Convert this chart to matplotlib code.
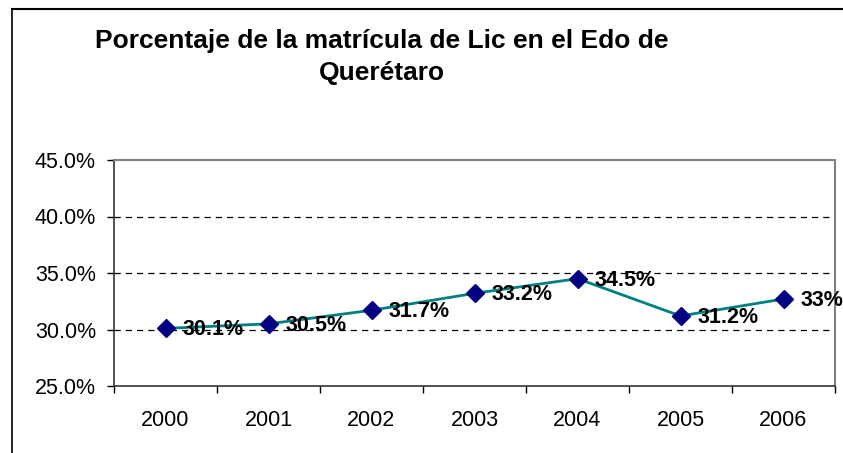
import numpy as np
import matplotlib
matplotlib.use("Agg")
import matplotlib.pyplot as plt
from matplotlib.lines import Line2D

# ---------------------------------------------------------------------------
# Datos
# ---------------------------------------------------------------------------
years = ["2000", "2001", "2002", "2003", "2004", "2005", "2006"]
pct = [30.1, 30.5, 31.7, 33.2, 34.5, 31.2, 32.7]
pct_labels = ["30.1%", "30.5%", "31.7%", "33.2%", "34.5%", "31.2%", "33%"]
y_ticks = [25.0, 30.0, 35.0, 40.0, 45.0]

TITLE = "Porcentaje de la matrícula de Lic en el Edo de\nQuerétaro"

plt.rcParams.update({
    "font.family": ["Liberation Sans", "DejaVu Sans"],
})

W, H = 843, 453
fig = plt.figure(figsize=(W / 100, H / 100), dpi=100)
fig.patch.set_facecolor("white")

# area de trazado en pixeles: x 114..835, y 160..386
ax = fig.add_axes([114 / W, 1 - 386 / H, (835 - 114) / W, (386 - 160) / H])

x = np.arange(len(years))
ax.plot(x, pct, color="#008080", linewidth=2, zorder=3)
ax.plot(x, pct, linestyle="none", marker="D", markersize=9.5,
        color="#000080", zorder=4)

for xi, yi, lab in zip(x, pct, pct_labels):
    ax.annotate(lab, (xi, yi), xytext=(12, -1), textcoords="offset points",
                ha="left", va="center", fontsize=15.5, fontweight="bold",
                color="black", zorder=5, annotation_clip=False)

ax.set_xlim(-0.5, len(years) - 0.5)
ax.set_ylim(25, 45)
ax.set_yticks(y_ticks)
ax.set_yticklabels([f"{v:.1f}%" for v in y_ticks], fontsize=15.5)

ax.set_xticks(x)
ax.set_xticklabels(years, fontsize=15.5)
ax.set_xticks(np.arange(len(years) + 1) - 0.5, minor=True)
ax.tick_params(axis="x", which="major", length=0, pad=17)
ax.tick_params(axis="x", which="minor", length=5, width=1, direction="out")
ax.tick_params(axis="y", length=5, width=1, direction="out", pad=8)

for v in [30, 35, 40]:
    ax.axhline(v, color="black", linewidth=0.9, linestyle=(0, (5, 4)), zorder=1)

for side in ["top", "right"]:
    ax.spines[side].set_color("#808080")
    ax.spines[side].set_linewidth(1.5)
for side in ["left", "bottom"]:
    ax.spines[side].set_color("#333333")
    ax.spines[side].set_linewidth(1.2)

fig.text(382 / W, 1 - 57 / H, TITLE, ha="center", va="center",
         fontsize=19, fontweight="bold", linespacing=1.38)

# marco del grafico (solo izquierda y arriba visibles)
fig.add_artist(Line2D([11.5 / W, 11.5 / W], [0, 1 - 9 / H],
                      transform=fig.transFigure, color="black", linewidth=1.2))
fig.add_artist(Line2D([11.5 / W, 1], [1 - 9 / H, 1 - 9 / H],
                      transform=fig.transFigure, color="black", linewidth=1.5))

fig.savefig("out.png", dpi=100)
